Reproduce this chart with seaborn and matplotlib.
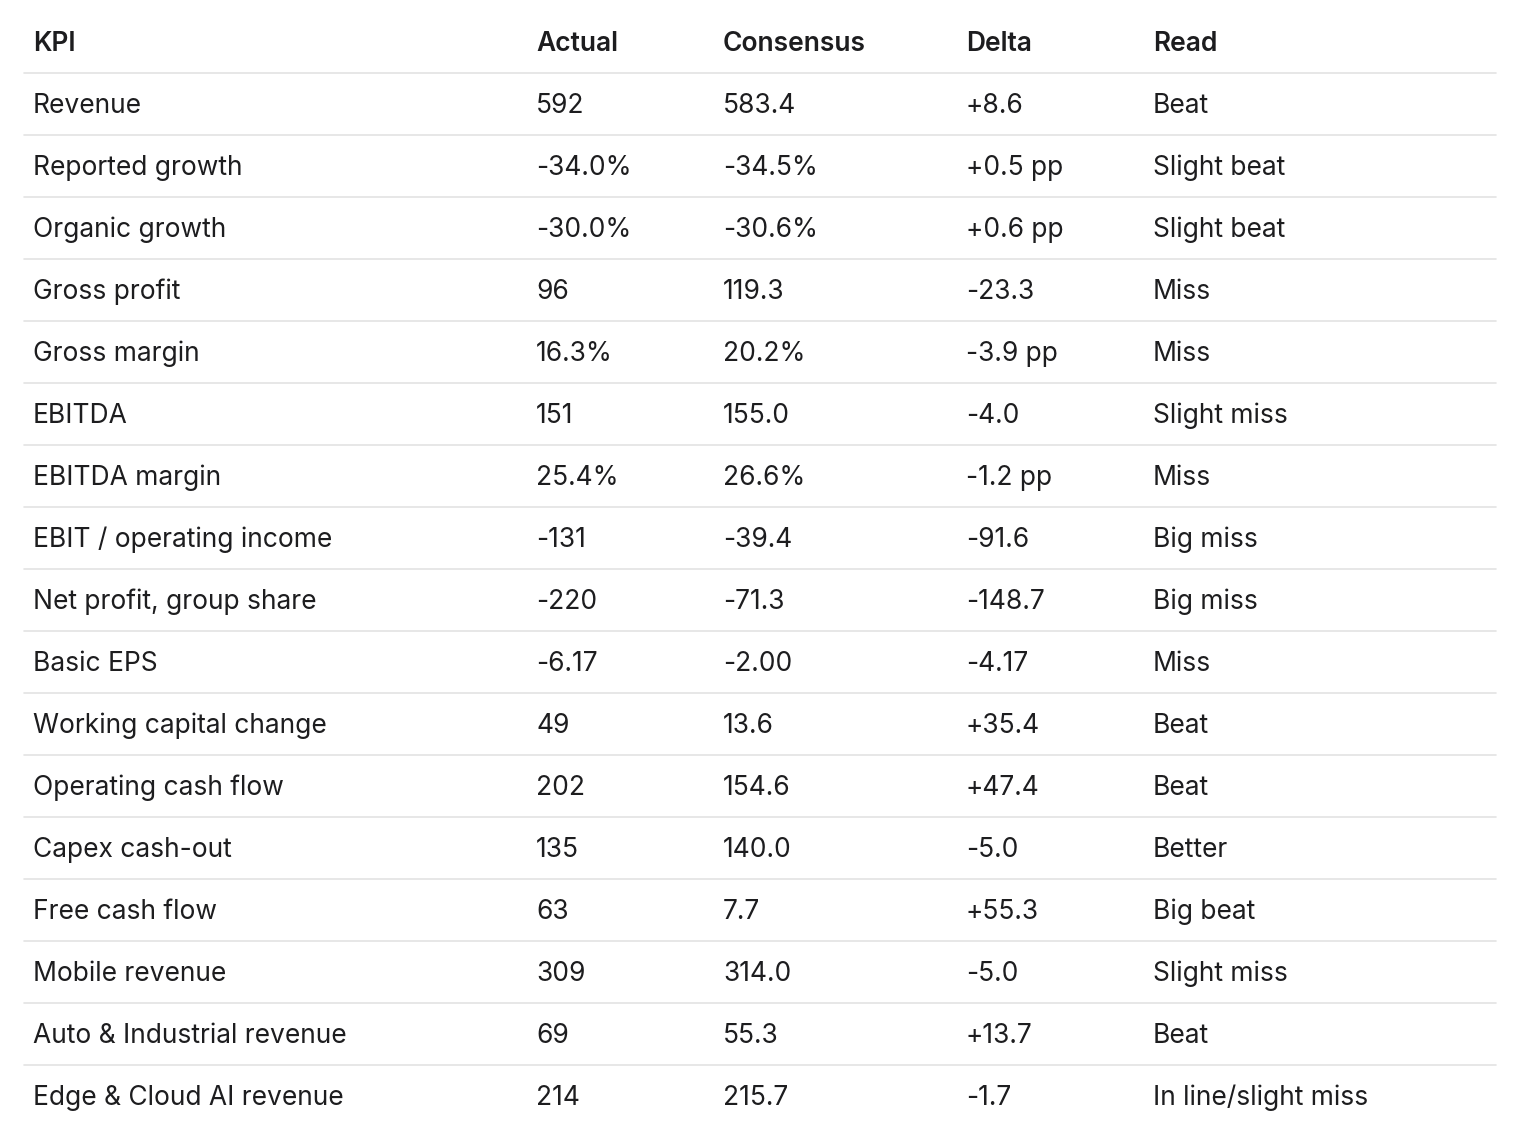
import matplotlib
matplotlib.use("Agg")
import matplotlib.pyplot as plt
import seaborn as sns

columns = ["KPI", "Actual", "Consensus", "Delta", "Read"]
kpis = ["Revenue", "Reported growth", "Organic growth", "Gross profit", "Gross margin",
        "EBITDA", "EBITDA margin", "EBIT / operating income", "Net profit, group share",
        "Basic EPS", "Working capital change", "Operating cash flow", "Capex cash-out",
        "Free cash flow", "Mobile revenue", "Auto & Industrial revenue", "Edge & Cloud AI revenue"]
actual = ["592", "-34.0%", "-30.0%", "96", "16.3%", "151", "25.4%", "-131", "-220",
          "-6.17", "49", "202", "135", "63", "309", "69", "214"]
consensus = ["583.4", "-34.5%", "-30.6%", "119.3", "20.2%", "155.0", "26.6%", "-39.4",
             "-71.3", "-2.00", "13.6", "154.6", "140.0", "7.7", "314.0", "55.3", "215.7"]
delta = ["+8.6", "+0.5 pp", "+0.6 pp", "-23.3", "-3.9 pp", "-4.0", "-1.2 pp", "-91.6",
         "-148.7", "-4.17", "+35.4", "+47.4", "-5.0", "+55.3", "-5.0", "+13.7", "-1.7"]
read = ["Beat", "Slight beat", "Slight beat", "Miss", "Miss", "Slight miss", "Miss",
        "Big miss", "Big miss", "Miss", "Beat", "Beat", "Better", "Big beat",
        "Slight miss", "Beat", "In line/slight miss"]

sns.set_style("white")
plt.rcParams['font.family'] = ['Inter', 'DejaVu Sans']

W, H = 1514, 1130
fig = plt.figure(figsize=(W / 100, H / 100), dpi=100)
ax = fig.add_axes([0, 0, 1, 1])
ax.set_xlim(0, W)
ax.set_ylim(H, 0)
ax.axis("off")

col_x = [33, 536, 723, 966, 1153]
header_y = 42
row_h = 62
txt = "#1d1d1f"
fs = 19

for x, c in zip(col_x, columns):
    ax.text(x, header_y + 2, c, fontsize=fs, fontweight="semibold", color=txt, va="center")

for i, row in enumerate(zip(kpis, actual, consensus, delta, read)):
    y = header_y + row_h * (i + 1)
    ax.plot([24, 1496], [y - row_h / 2, y - row_h / 2], color="#e3e3e3", lw=1.2)
    for x, v in zip(col_x, row):
        ax.text(x, y + 2, v, fontsize=fs, color=txt, va="center")

fig.savefig("out.png", dpi=100, facecolor="white")
